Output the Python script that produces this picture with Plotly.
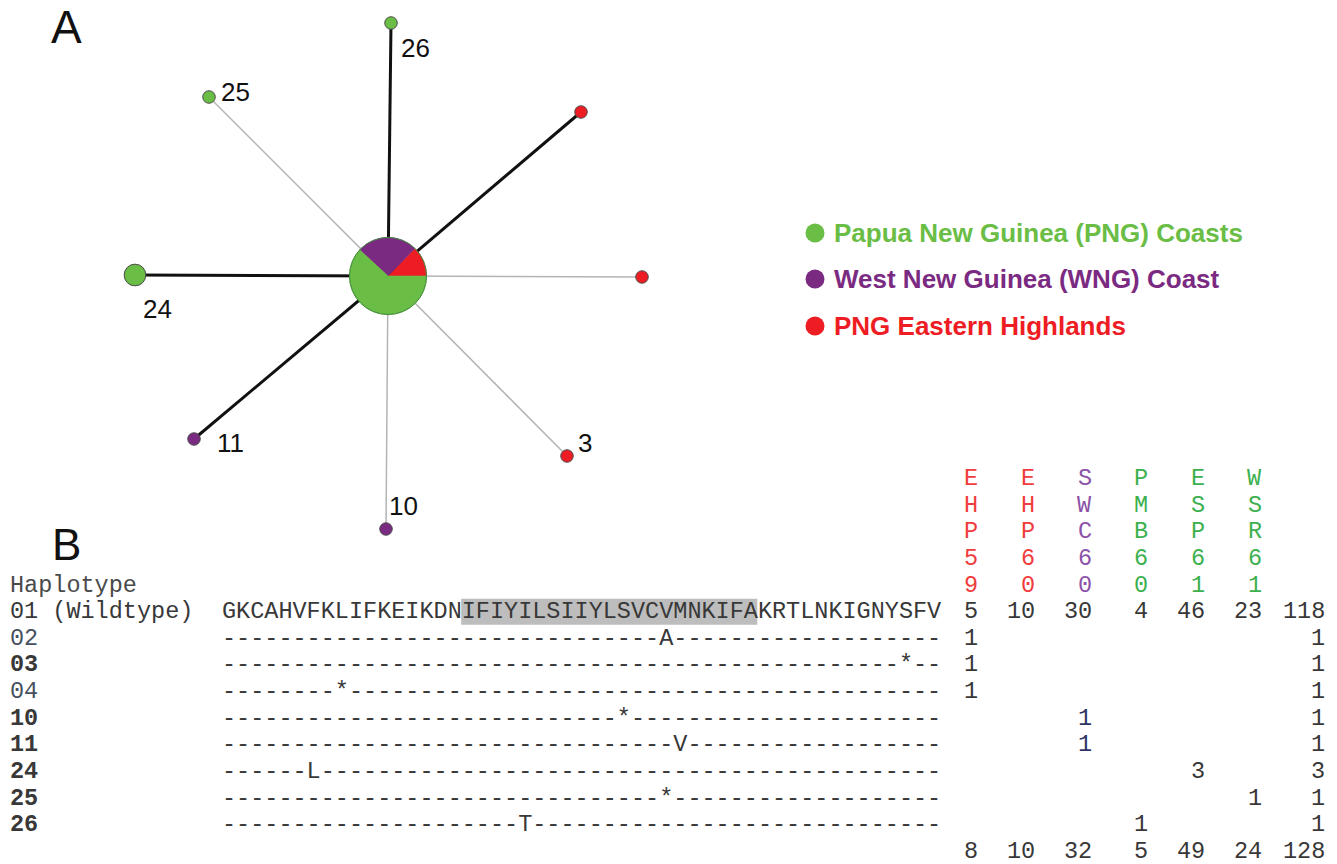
import math
import plotly.graph_objects as go

W, H = 1337, 864

# ---------------- data ----------------
haplotypes = ["01", "02", "03", "04", "10", "11", "24", "25", "26"]
wildtype = "GKCAHVFKLIFKEIKDNIFIYILSIIYLSVCVMNKIFAKRTLNKIGNYSFV"
# (0-based residue index, substituted residue) of each variant haplotype
substitutions = {
    "02": (31, "A"), "03": (48, "*"), "04": (8, "*"), "10": (28, "*"),
    "11": (32, "V"), "24": (6, "L"), "25": (31, "*"), "26": (21, "T"),
}
highlight_span = (17, 38)  # shaded residues [start, end)
populations = ["EHP59", "EHP60", "SWC60", "PMB60", "ESP61", "WSR61"]
population_region = ["EH", "EH", "WNG", "PNG", "PNG", "PNG"]
counts = {
    "01": [5, 10, 30, 4, 46, 23],
    "02": [1, 0, 0, 0, 0, 0],
    "03": [1, 0, 0, 0, 0, 0],
    "04": [1, 0, 0, 0, 0, 0],
    "10": [0, 0, 1, 0, 0, 0],
    "11": [0, 0, 1, 0, 0, 0],
    "24": [0, 0, 0, 0, 3, 0],
    "25": [0, 0, 0, 0, 0, 1],
    "26": [0, 0, 0, 1, 0, 0],
}
bold_rows = ["03", "10", "11", "24", "25", "26"]
row_labels = {"01": "01 (Wildtype)"}
region_order = ["EH", "WNG", "PNG"]
legend_order = ["PNG", "WNG", "EH"]
region_names = {
    "PNG": "Papua New Guinea (PNG) Coasts",
    "WNG": "West New Guinea (WNG) Coast",
    "EH": "PNG Eastern Highlands",
}
network_labels = {"26": "26", "25": "25", "24": "24", "11": "11", "10": "10", "03": "3"}
thick_edges = ["26", "24", "02", "11"]

# ---------------- styles / layout ----------------
region_color = {"PNG": "#6abd45", "WNG": "#7b2a82", "EH": "#ee1d24"}
header_color = {"PNG": "#3cb04e", "WNG": "#8c52a8", "EH": "#f03c3c"}
SANS = "Arial, Liberation Sans, sans-serif"
MONO = "Courier New, Liberation Mono, monospace"
TXT = "#383838"

center_xy = (388, 276)
center_r = 38.5
node_xy = {"26": (391, 23), "25": (209, 97), "24": (135, 275), "02": (581, 112),
           "04": (642, 277), "11": (194, 439), "10": (386, 529), "03": (567, 456)}
label_xy = {"26": (415, 48), "25": (235, 92), "24": (157, 309), "11": (230, 443),
            "10": (403, 506), "03": (585, 443)}

seq_x0 = 221.5
cw = 14.1           # monospace advance at the font size below
mono_size = 23.5
row_y0 = 585
row_dy = 26.65
col_right0 = 978
col_dx = 56.8
total_right = 1325

fig = go.Figure()
annotations = []
shapes = []


def text(x, y, s, size, color=TXT, family=SANS, xanchor="center"):
    annotations.append(dict(x=x, y=y, xref="x", yref="y", text=s, showarrow=False,
                            font=dict(size=size, color=color, family=family),
                            xanchor=xanchor, yanchor="middle", borderpad=0, borderwidth=0))


def region_of(h):
    c = counts[h]
    i = max(range(len(c)), key=lambda k: c[k])
    return population_region[i]


# ---- A: haplotype network ----
cx, cy = center_xy
for h, (x, y) in node_xy.items():
    thick = h in thick_edges
    fig.add_trace(go.Scatter(x=[cx, x], y=[cy, y], mode="lines",
                             line=dict(color="#111111" if thick else "#b4b4b4",
                                       width=3 if thick else 1.5),
                             hoverinfo="skip", showlegend=False))

# wildtype node: pie split by region, wedges running counterclockwise from east,
# drawn as shapes above the edges
wt_region = {r: 0 for r in region_order}
for v, r in zip(counts["01"], population_region):
    wt_region[r] += v
wt_total = sum(wt_region.values())
start = 0.0
for r in region_order:
    frac = wt_region[r] / wt_total
    a0, a1 = start * 2 * math.pi, (start + frac) * 2 * math.pi
    n = max(4, int(120 * frac))
    pts = [(cx, cy)] + [(cx + center_r * math.cos(a0 + (a1 - a0) * i / n),
                         cy - center_r * math.sin(a0 + (a1 - a0) * i / n)) for i in range(n + 1)]
    path = "M " + " L ".join(f"{px:.2f},{py:.2f}" for px, py in pts) + " Z"
    shapes.append(dict(type="path", path=path, xref="x", yref="y", layer="above",
                       fillcolor=region_color[r], line=dict(width=0.6, color=region_color[r])))
    start += frac
shapes.append(dict(type="circle", xref="x", yref="y", layer="above",
                   x0=cx - center_r, x1=cx + center_r,
                   y0=cy - center_r, y1=cy + center_r,
                   line=dict(color="#3f8a3c", width=1)))

leaf_ids = list(node_xy.keys())
fig.add_trace(go.Scatter(
    x=[node_xy[h][0] for h in leaf_ids], y=[node_xy[h][1] for h in leaf_ids],
    mode="markers",
    marker=dict(size=[12.5 * sum(counts[h]) ** 0.5 for h in leaf_ids],
                color=[region_color[region_of(h)] for h in leaf_ids],
                opacity=1, line=dict(color="#4a4a4a", width=1)),
    text=leaf_ids, hoverinfo="text", showlegend=False))

for h, s in network_labels.items():
    text(label_xy[h][0], label_xy[h][1], s, 26, color="#111111")

text(66, 27, "A", 46, color="#111111")

# legend
legend_y = [233, 279, 326]
for r, y in zip(legend_order, legend_y):
    fig.add_trace(go.Scatter(x=[815], y=[y], mode="markers",
                             marker=dict(size=19, color=region_color[r], opacity=1),
                             hoverinfo="skip", showlegend=False))
    text(834, y, "<b>" + region_names[r] + "</b>", 26, color=region_color[r], xanchor="left")

# ---- B: alignment table ----
text(66, 544, "B", 44, color="#111111")


def row_y(k):
    return row_y0 + row_dy * k


shapes.append(dict(type="rect", xref="x", yref="y", layer="below",
                   x0=seq_x0 + highlight_span[0] * cw, x1=seq_x0 + highlight_span[1] * cw,
                   y0=row_y(1) - 13, y1=row_y(1) + 13,
                   fillcolor="#bdbdbd", line=dict(width=0)))

text(10, row_y(0), "Haplotype", mono_size, color="#4a4a4a", family=MONO, xanchor="left")

for k, h in enumerate(haplotypes, start=1):
    lab = row_labels.get(h, h)
    if h in bold_rows:
        lab = "<b>" + lab + "</b>"
    text(10, row_y(k), lab, mono_size, color=TXT if h in bold_rows or h == "01" else "#46505e",
         family=MONO, xanchor="left")
    if h in substitutions:
        pos, res = substitutions[h]
        seq = "-" * pos + res + "-" * (len(wildtype) - pos - 1)
    else:
        seq = wildtype
    text(seq_x0, row_y(k), seq, mono_size, family=MONO, xanchor="left")
    for j, v in enumerate(counts[h]):
        if v:
            text(col_right0 + j * col_dx, row_y(k), str(v), mono_size,
                 color="#2e3566" if population_region[j] == "WNG" and h != "01" else TXT,
                 family=MONO, xanchor="right")
    text(total_right, row_y(k), str(sum(counts[h])), mono_size, family=MONO, xanchor="right")

# column headers, written vertically
for j, p in enumerate(populations):
    for i, ch in enumerate(p):
        text(col_right0 + j * col_dx - cw / 2, row_y(i - len(p) + 1), ch, mono_size,
             color=header_color[population_region[j]], family=MONO)

# column totals
n_rows = len(haplotypes) + 1
for j in range(len(populations)):
    tot = sum(counts[h][j] for h in haplotypes)
    text(col_right0 + j * col_dx, row_y(n_rows), str(tot), mono_size, family=MONO, xanchor="right")
grand = sum(sum(counts[h]) for h in haplotypes)
text(total_right, row_y(n_rows), str(grand), mono_size, family=MONO, xanchor="right")

fig.update_layout(
    width=W, height=H, autosize=False,
    margin=dict(l=0, r=0, t=0, b=0),
    paper_bgcolor="white", plot_bgcolor="white",
    xaxis=dict(range=[0, W], visible=False, fixedrange=True),
    yaxis=dict(range=[H, 0], visible=False, fixedrange=True),
    annotations=annotations, shapes=shapes,
    showlegend=False,
)

fig.write_html("out.html")
